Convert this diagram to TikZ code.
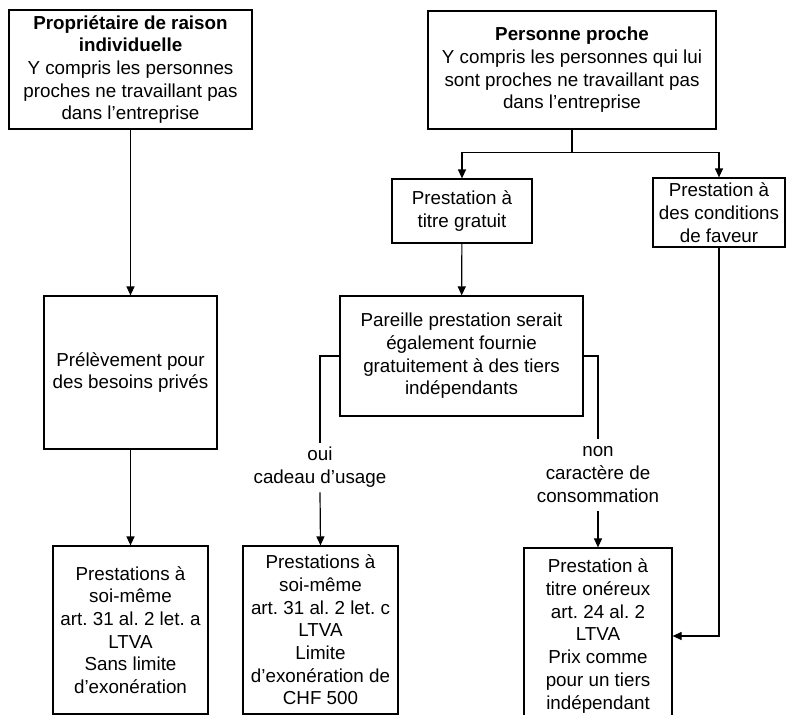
\documentclass[tikz,border=0pt]{standalone}
\usepackage{fontspec}
\setmainfont{Liberation Sans}
\usetikzlibrary{positioning, arrows.meta, calc}
\frenchspacing

\begin{document}
\begin{tikzpicture}[
    x=1pt, y=-1pt,
    >={Triangle[length=9pt, width=8pt]},
    % Styles
    box/.style={ % Boxes of the chart
        rectangle,
        draw,
        line width=1.2pt,
        align=center,
        inner sep=2pt,
        font=\fontsize{18.8}{22.7}\selectfont
    },
    answer/.style={ % Labels cutting a connector
        align=center,
        inner sep=2pt,
        font=\fontsize{18.8}{22.7}\selectfont
    },
    line/.style={
        line width=1.2pt
    },
    arrow/.style={
        line,
        ->
    }
]

    \useasboundingbox (0,0) rectangle (788,715);
    \clip (0,0) rectangle (788,715);

    % Left column
    \node [box, minimum width=243, minimum height=119] (owner) at (130.5,69.5)
        {\textbf{Propriétaire de raison}\\\textbf{individuelle}\\Y compris les personnes\\proches ne travaillant pas\\dans l’entreprise};
    \node [box, minimum width=173, minimum height=153] (withdraw) at (130.5,372.5)
        {Prélèvement pour\\des besoins privés};
    \node [box, minimum width=155, minimum height=168] (selfa) at (130.5,630)
        {Prestations à\\soi-même\\art. 31 al. 2 let. a\\LTVA\\Sans limite\\d’exonération};

    % Right part
    \node [box, minimum width=288, minimum height=118] (close) at (572,70)
        {\textbf{Personne proche}\\Y compris les personnes qui lui\\sont proches ne travaillant pas\\dans l’entreprise};
    \node [box, minimum width=140, minimum height=64] (free) at (462,211)
        {Prestation à\\titre gratuit};
    \node [box, minimum width=132, minimum height=69] (favour) at (719,212.5)
        {Prestation à\\des conditions\\de faveur};
    \node [box, minimum width=243, minimum height=120] (same) at (461.5,356)
        {Pareille prestation serait\\également fournie\\gratuitement à des tiers\\indépendants};
    \node [box, minimum width=155, minimum height=168] (selfc) at (320.5,630)
        {Prestations à\\soi-même\\art. 31 al. 2 let. c\\LTVA\\Limite\\d’exonération de\\CHF 500};
    \node [box, minimum width=148, minimum height=176] (paid) at (598,636)
        {Prestation à\\titre onéreux\\art. 24 al. 2\\LTVA\\Prix comme\\pour un tiers\\indépendant};

    % Answers
    \node [answer] (yes) at (320,467.5) {\strut oui\\cadeau d’usage\strut};
    \node [answer] (no) at (598,475) {\strut non\\caractère de\\consommation\strut};

    % Arrows
    \draw [arrow] (owner) -- (withdraw);
    \draw [arrow] (withdraw) -- (selfa);
    \draw [line] (close.south) -- ++(0,23) coordinate (split);
    \draw [arrow] (split) -| (free.north);
    \draw [arrow] (split) -| (favour.north);
    \draw [arrow] (free) -- (same);
    \draw [line] (same.west) -| (yes.north);
    \draw [arrow] (yes.south) -- (selfc.north);
    \draw [line] (same.east) -| (no.north);
    \draw [arrow] (no.south) -- (paid.north);
    \draw [arrow] (favour.south) |- (paid.east);
\end{tikzpicture}
\end{document}
